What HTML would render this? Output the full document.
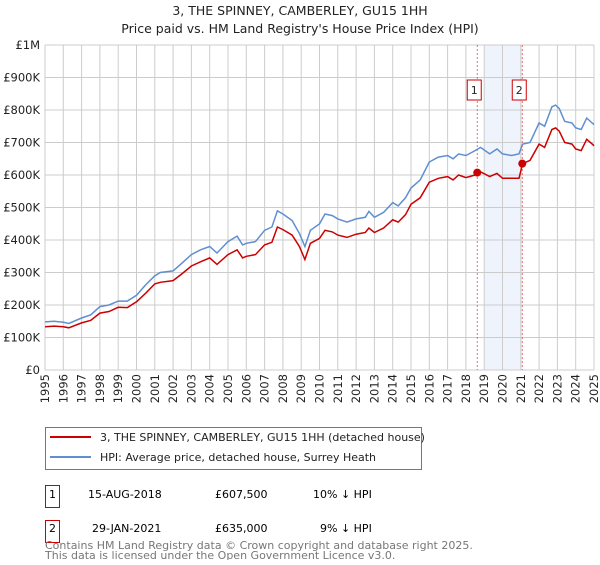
<!DOCTYPE html>
<html><head><meta charset="utf-8"><style>
body{margin:0;background:#fff;font-family:"Liberation Sans","DejaVu Sans",sans-serif}
svg text{font-family:"DejaVu Sans","Liberation Sans",sans-serif}
</style></head><body>
<svg id="c" width="600" height="560" viewBox="0 0 600 560">
<text x="300" y="15" text-anchor="middle" font-size="12.5" fill="#222">3, THE SPINNEY, CAMBERLEY, GU15 1HH</text>
<text x="300" y="33" text-anchor="middle" font-size="12.5" fill="#222">Price paid vs. HM Land Registry's House Price Index (HPI)</text>
<g id="grid"></g>
<g id="ax"></g>
<g id="series"></g>
<rect x="45.5" y="427.5" width="376" height="42" fill="#fff" stroke="#777"/>
<line x1="50" y1="437" x2="91" y2="437" stroke="#cc0000" stroke-width="2"/>
<text x="100" y="441" font-size="11" fill="#222">3, THE SPINNEY, CAMBERLEY, GU15 1HH (detached house)</text>
<line x1="50" y1="457" x2="91" y2="457" stroke="#5f8fd0" stroke-width="2"/>
<text x="100" y="461" font-size="11" fill="#222">HPI: Average price, detached house, Surrey Heath</text>
<g>
<rect x="45.5" y="485.5" width="14" height="22" fill="#fff" stroke="#cc0000"/>
<text x="52.5" y="498" text-anchor="middle" font-size="11">1</text>
<text x="88" y="498" font-size="11">15-AUG-2018</text>
<text x="215" y="498" font-size="11">£607,500</text>
<text x="313" y="498" font-size="11">10% ↓ HPI</text></g>
<g>
<rect x="45.5" y="520.5" width="14" height="22" fill="#fff" stroke="#cc0000"/>
<text x="52.5" y="532" text-anchor="middle" font-size="11">2</text>
<text x="92" y="532" font-size="11">29-JAN-2021</text>
<text x="215" y="532" font-size="11">£635,000</text>
<text x="320" y="532" font-size="11">9% ↓ HPI</text></g>
<text x="45" y="549" font-size="11" fill="#777">Contains HM Land Registry data © Crown copyright and database right 2025.</text>
<text x="45" y="559" font-size="11" fill="#777">This data is licensed under the Open Government Licence v3.0.</text>
</svg>
<script>
const dates=[1995,1995.5,1996,1996.3,1997,1997.5,1998,1998.5,1999,1999.5,2000,2000.5,2001,2001.3,2002,2002.5,2003,2003.5,2004,2004.4,2005,2005.5,2005.8,2006,2006.5,2007,2007.4,2007.7,2008,2008.5,2008.9,2009.2,2009.5,2010,2010.3,2010.7,2011,2011.5,2012,2012.5,2012.7,2013,2013.5,2014,2014.3,2014.7,2015,2015.5,2016,2016.5,2017,2017.3,2017.6,2018,2018.5,2018.8,2019.3,2019.7,2020,2020.5,2020.9,2021.1,2021.5,2022,2022.3,2022.7,2022.9,2023.1,2023.4,2023.8,2024,2024.3,2024.6,2024.9,2025];
const hpi=[148,150,147,143,160,170,195,200,212,212,230,262,290,300,305,330,355,370,380,360,395,412,385,390,395,430,440,490,480,460,420,380,430,450,480,475,465,455,465,470,488,470,485,515,505,530,560,585,640,655,660,650,665,660,675,685,665,680,665,660,665,695,700,760,750,810,815,805,765,760,745,740,775,760,755];
const price=[133,135,133,130,145,153,175,180,193,192,210,236,265,270,275,297,320,333,345,325,355,370,345,350,355,385,393,440,432,415,380,340,390,405,430,425,415,408,418,423,437,423,437,462,455,478,510,530,578,590,595,585,600,592,600,610,595,605,590,590,590,635,645,695,685,740,745,735,700,695,680,675,710,695,690];
const sales=[{d:2018.62,v:607.5,n:"1"},{d:2021.08,v:635,n:"2"}];
const yTicks=[0,100,200,300,400,500,600,700,800,900,1000];
const yLabels=["£0","£100K","£200K","£300K","£400K","£500K","£600K","£700K","£800K","£900K","£1M"];
const xTicks=[1995,1996,1997,1998,1999,2000,2001,2002,2003,2004,2005,2006,2007,2008,2009,2010,2011,2012,2013,2014,2015,2016,2017,2018,2019,2020,2021,2022,2023,2024,2025];
const L=45,R=594,T=45,B=370;
const X=d=>L+(d-1995)/30*(R-L), Y=v=>B-v/1000*(B-T);
const NS="http://www.w3.org/2000/svg";
function mk(p,t,a){const e=document.createElementNS(NS,t);for(const k in a)e.setAttribute(k,a[k]);p.appendChild(e);return e;}
const g=document.getElementById('grid'),ax=document.getElementById('ax'),s=document.getElementById('series');
const band=mk(g,'rect',{x:X(2019),y:T,width:X(2021.08)-X(2019),height:B-T,fill:'#eef3fc'});


yTicks.forEach((v,i)=>{const l=mk(g,'line',{x1:L,x2:R,y1:Y(v),y2:Y(v),stroke:'#ccc'});


const t=mk(ax,'text',{x:L-5,y:Y(v)+4,'text-anchor':'end','font-size':11.5,fill:'#222'});t.textContent=yLabels[i];

});
xTicks.forEach(d=>{const l=mk(g,'line',{x1:X(d),x2:X(d),y1:T,y2:B,stroke:'#ccc'});


const t=mk(ax,'text',{x:0,y:0,'text-anchor':'end','font-size':11.5,fill:'#222',transform:`translate(${X(d)+4},${B+4}) rotate(-90)`});t.textContent=d;

});
const pts=a=>a.map((v,i)=>X(dates[i]).toFixed(1)+','+Y(v).toFixed(1)).join(' ');
const h=mk(s,'polyline',{points:pts(hpi),fill:'none',stroke:'#5f8fd0','stroke-width':1.5});


const p=mk(s,'polyline',{points:pts(price),fill:'none',stroke:'#cc0000','stroke-width':1.5});


sales.forEach(o=>{const l=mk(s,'line',{x1:X(o.d),x2:X(o.d),y1:T,y2:B,stroke:'#e05050','stroke-dasharray':'2,2','stroke-width':0.8});


const c=mk(s,'circle',{cx:X(o.d),cy:Y(o.v),r:4,fill:'#cc0000'});


const b=mk(s,'rect',{x:X(o.d)-10,y:80,width:14,height:20,fill:'#fff',stroke:'#cc0000'});


const t=mk(s,'text',{x:X(o.d)-3,y:94,'text-anchor':'middle','font-size':11,fill:'#222'});t.textContent=o.n;

});
</script>
</body></html>
